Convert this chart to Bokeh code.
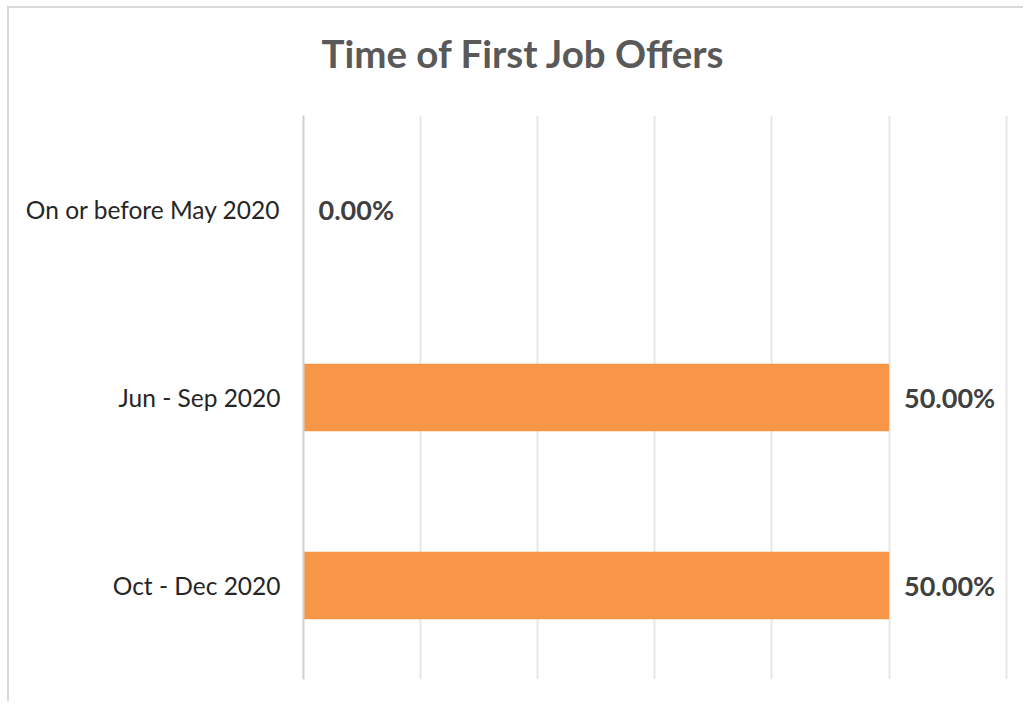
from bokeh.plotting import figure
from bokeh.models import FactorRange, Range1d, Title, ColumnDataSource
from bokeh.core.properties import value
from bokeh.embed import file_html
from bokeh.resources import INLINE

title_text = "Time of First Job Offers"
categories = ["On or before May 2020", "Jun - Sep 2020", "Oct - Dec 2020"]
shares = [0.0, 0.5, 0.5]
labels = ["0.00%", "50.00%", "50.00%"]
grid_ticks = [0, 0.1, 0.2, 0.3, 0.4, 0.5, 0.6]

src = ColumnDataSource(dict(cat=categories, val=shares, lab=labels))

p = figure(
    width=1016, height=695,
    y_range=FactorRange(*reversed(categories), range_padding=0),
    x_range=Range1d(0, 0.602),
    output_backend="svg", toolbar_location=None,
    min_border_left=294, min_border_right=17, min_border_top=107, min_border_bottom=24,
)
p.styles = {"margin-left": "7px", "margin-top": "6px",
            "border-left": "2px solid #d9d9d9", "border-top": "2px solid #d9d9d9"}
p.outline_line_color = None
p.background_fill_color = "white"
p.border_fill_color = "white"

p.hbar(y="cat", right="val", left=0, height=0.36, source=src,
       fill_color="#F79646", line_color=None)
p.text(x="val", y="cat", text="lab", source=src, x_offset=15,
       text_baseline="middle", text_align="left",
       text_font=value("Lato"), text_font_size="27px", text_font_style="bold",
       text_color="#404040")

p.title = Title(text=title_text, align="left", offset=18,
                text_font="Lato", text_font_size="38.5px", text_font_style="bold",
                text_color="#595959", standoff=0)
# blank spacer between the title and the plotting frame
p.add_layout(Title(text=" ", text_font_size="10px", standoff=27), "above")

p.xaxis.visible = False
p.xgrid.ticker = grid_ticks
p.xgrid.grid_line_color = "#e6e6e6"
p.xgrid.grid_line_width = 2
p.ygrid.grid_line_color = None

ya = p.yaxis[0]
ya.axis_line_color = "#d0d0d0"
ya.axis_line_width = 2
ya.major_tick_line_color = None
ya.minor_tick_line_color = None
ya.major_label_text_font = "Lato"
ya.major_label_text_font_size = "24.5px"
ya.major_label_text_color = "#262626"
ya.major_label_standoff = 17

open("out.html", "w").write(file_html(p, INLINE))
